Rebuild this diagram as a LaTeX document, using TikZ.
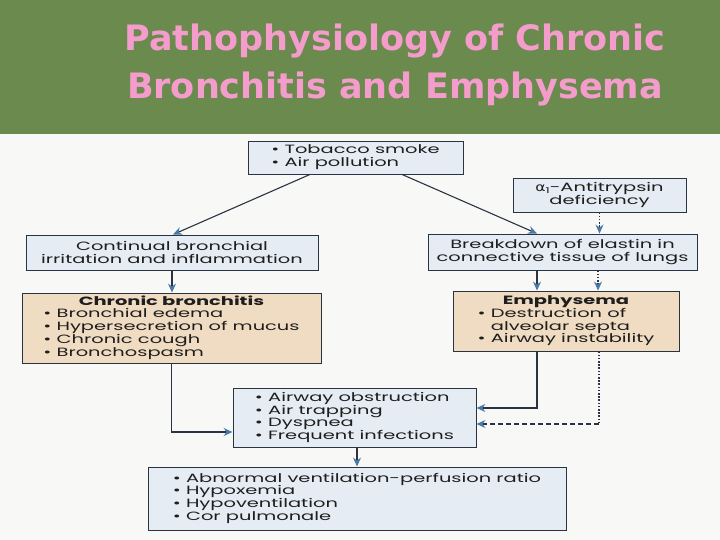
\documentclass[tikz,border=0pt]{standalone}
\usepackage{fontspec}
\usetikzlibrary{arrows.meta,calc}
\newfontfamily\boxfont[FakeStretch=1.62]{Poppins}
\newfontfamily\titlefont{DejaVu Sans}
\newfontfamily\greekfont[FakeStretch=1.3]{DejaVu Sans}
\definecolor{bggreen}{HTML}{6B8A4D}
\definecolor{paper}{HTML}{F8F8F7}
\definecolor{titlepink}{HTML}{F49CCB}
\definecolor{boxblue}{HTML}{E6ECF3}
\definecolor{boxtan}{HTML}{F0DCC2}
\definecolor{boxline}{HTML}{2A3440}
\definecolor{arrowblue}{HTML}{4A78A8}
\definecolor{inkc}{HTML}{1E1E1E}
\tikzset{
  titletext/.style={font=\titlefont\bfseries\fontsize{35}{48}\selectfont, align=center, inner sep=0pt},
  bluebox/.style={draw=boxline, line width=0.9pt, fill=boxblue, text=inkc, inner sep=0pt,
    font=\boxfont\fontsize{12}{12.3}\selectfont, align=center},
  tanbox/.style={bluebox, fill=boxtan},
  conn/.style={draw=boxline, line width=1.1pt},
  arr/.style={conn, -{Stealth[length=9pt,width=8pt,inset=3pt,color=arrowblue]}},
  dotline/.style={draw=boxline, line width=1.6pt, dash pattern=on 1.6pt off 1.6pt},
  dashline/.style={draw=boxline, line width=1.1pt, dash pattern=on 5pt off 3pt}
}
\newcommand{\blist}[1]{\begin{tabular}[t]{@{}l@{\ }l@{}}#1\end{tabular}}
\newcommand{\bi}{\textbullet}
\begin{document}
\begin{tikzpicture}[x=1pt,y=-1pt]
\useasboundingbox (0,0) rectangle (720,540);
\fill[paper] (0,0) rectangle (720,540);
\fill[bggreen] (0,0) rectangle (720,134);
% title
\node[titletext, text=titlepink] (title) at (395,65) {Pathophysiology of Chronic\\Bronchitis and Emphysema};
% boxes
\node[bluebox, minimum width=215pt, minimum height=33pt] (top) at (355.5,157.5)
  {\blist{\bi & Tobacco smoke\\ \bi & Air pollution}};
\node[bluebox, minimum width=173pt, minimum height=34pt] (alpha) at (599.5,195)
  {{\greekfont α}\raisebox{-2pt}{\fontsize{8}{8}\selectfont 1}-Antitrypsin\\deficiency};
\node[bluebox, minimum width=292pt, minimum height=35pt] (cont) at (172,252.5)
  {Continual bronchial\\irritation and inflammation};
\node[bluebox, minimum width=269pt, minimum height=36pt] (brk) at (562.5,252)
  {Breakdown of elastin in\\connective tissue of lungs};
\node[tanbox, minimum width=299pt, minimum height=70pt] (cb) at (171.5,328)
  {{\bfseries Chronic bronchitis}\\\blist{\bi & Bronchial edema\\ \bi & Hypersecretion of mucus\\ \bi & Chronic cough\\ \bi & Bronchospasm}};
\node[tanbox, minimum width=226pt, minimum height=60pt] (emph) at (566,321)
  {{\bfseries Emphysema}\\\blist{\bi & Destruction of\\ & alveolar septa\\ \bi & Airway instability}};
\node[bluebox, minimum width=243pt, minimum height=59pt] (air) at (354.5,417.5)
  {\blist{\bi & Airway obstruction\\ \bi & Air trapping\\ \bi & Dyspnea\\ \bi & Frequent infections}};
\node[bluebox, minimum width=418pt, minimum height=63pt] (bot) at (357,498.5)
  {\blist{\bi & Abnormal ventilation-perfusion ratio\\ \bi & Hypoxemia\\ \bi & Hypoventilation\\ \bi & Cor pulmonale}};
% connectors
\draw[arr] ($(top.south)+(-45.5,0)$) -- ($(cont.north)+(1,0)$);
\draw[arr] ($(top.south)+(46.5,0)$) -- ($(brk.north)+(-25.5,0)$);
\draw[dotline] (alpha.south) -- ($(alpha.south |- brk.north)+(0,-7)$);
\draw[arr] ($(alpha.south |- brk.north)+(0,-8)$) -- (alpha.south |- brk.north);
\draw[arr] (cont.south) -- (cont.south |- cb.north);
\draw[arr] ($(brk.south)+(-25.5,0)$) -- ($(brk.south |- emph.north)+(-25.5,0)$);
\draw[dotline] ($(brk.south)+(35.5,0)$) -- ($(brk.south |- emph.north)+(35.5,-7)$);
\draw[arr] ($(brk.south |- emph.north)+(35.5,-8)$) -- ($(brk.south |- emph.north)+(35.5,0)$);
\draw[arr] (cb.south) |- ($(air.west)+(0,14.5)$);
\draw[arr] ($(emph.south)+(-29,0)$) |- ($(air.east)+(0,-9.5)$);
\coordinate (dcorner) at ($(emph.south |- air.east)+(33,6.5)$);
\draw[dotline] ($(emph.south)+(33,0)$) -- (dcorner);
\draw[dashline, -{Stealth[length=9pt,width=8pt,inset=3pt,color=arrowblue]}] (dcorner) -- ($(air.east)+(0,6.5)$);
\draw[arr] ($(air.south)+(2.5,0)$) -- ($(air.south |- bot.north)+(2.5,0)$);
\end{tikzpicture}
\end{document}
